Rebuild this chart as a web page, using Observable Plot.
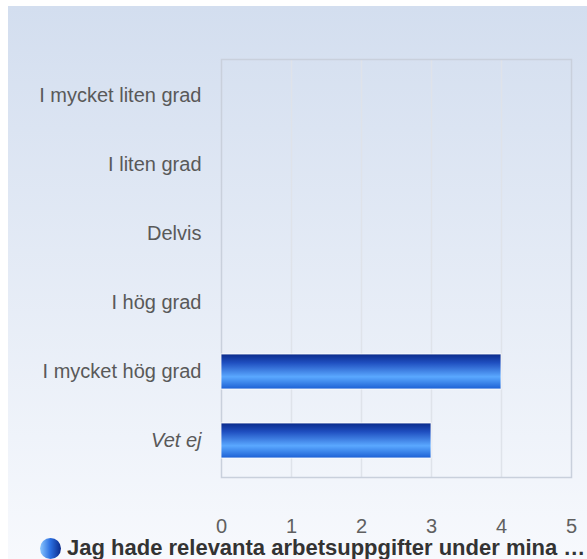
<!DOCTYPE html>
<html><head><meta charset="utf-8">
<script src="https://cdn.jsdelivr.net/npm/d3@7"></script>
<script src="https://cdn.jsdelivr.net/npm/@observablehq/plot@0.6"></script>
<style>
html,body{margin:0;padding:0;background:#fff;}
#wrap{position:absolute;left:8px;top:6px;width:579px;height:553px;background:linear-gradient(#d3deef,#f7f9fd);font-family:"Liberation Sans",Arial,sans-serif;overflow:hidden;}
#chart{position:absolute;left:0;top:0;}
#legend{position:absolute;left:32px;top:529px;height:26px;display:flex;align-items:center;font-weight:bold;font-size:22px;color:#333;white-space:nowrap;}
#legend .dot{width:21px;height:21px;border-radius:50%;background:linear-gradient(90deg,#8cc8ff,#2a6ee0 50%,#0a2a8a);margin-right:6px;flex:none;}
</style></head>
<body>
<div id="wrap"><div id="chart"></div><div id="legend"><span class="dot"></span><span id="ltext"></span></div></div>
<script>
const categories = ["I mycket liten grad","I liten grad","Delvis","I hög grad","I mycket hög grad","Vet ej"];
const values = [0,0,0,0,4,3];
const xTicks = [0,1,2,3,4,5];
const seriesName = "Jag hade relevanta arbetsuppgifter under mina …";

document.getElementById("ltext").textContent = seriesName;
const data = categories.map((c,i)=>({category:c,value:values[i]}));

const plot = Plot.plot({
  width:579, height:530,
  marginTop:53, marginBottom:59, marginLeft:213, marginRight:16,
  style:{background:"transparent",fontFamily:"'Liberation Sans',Arial,sans-serif",fontSize:"20px",color:"#595959"},
  x:{domain:[0,5],ticks:xTicks,label:null},
  y:{domain:categories,label:null,paddingInner:0.5,paddingOuter:0.25},
  marks:[
    Plot.ruleX([1,2,3,4],{stroke:"#dfe3ea",strokeWidth:1.5}),
    Plot.frame({stroke:"#c9d0dc",strokeWidth:1.5}),
    Plot.barX(data.filter(d=>d.value>0),{y:"category",x:"value",fill:"url(#barGrad)",stroke:"#ffffff",strokeWidth:1,strokeOpacity:0.8}),
    Plot.axisX({ticks:xTicks,tickFormat:d3.format("d"),tickSize:0,tickPadding:41,label:null,fill:"#606060",fontSize:20}),
    Plot.axisY({tickSize:0,tickPadding:20,label:null,fill:"#595959",fontSize:20})
  ]
});
const svg = d3.select(plot);
const defs = svg.insert("defs",":first-child");
const g = defs.append("linearGradient").attr("id","barGrad").attr("x1",0).attr("y1",0).attr("x2",0).attr("y2",1);
[[0,"#0a2a8a"],[0.25,"#1f4fc0"],[0.65,"#5aa8ff"],[1,"#1c60d4"]].forEach(([o,c])=>g.append("stop").attr("offset",o).attr("stop-color",c));
svg.selectAll("text").filter(function(){return this.textContent==="Vet ej";}).style("font-style","italic");
document.getElementById("chart").appendChild(plot);
</script>
</body></html>
